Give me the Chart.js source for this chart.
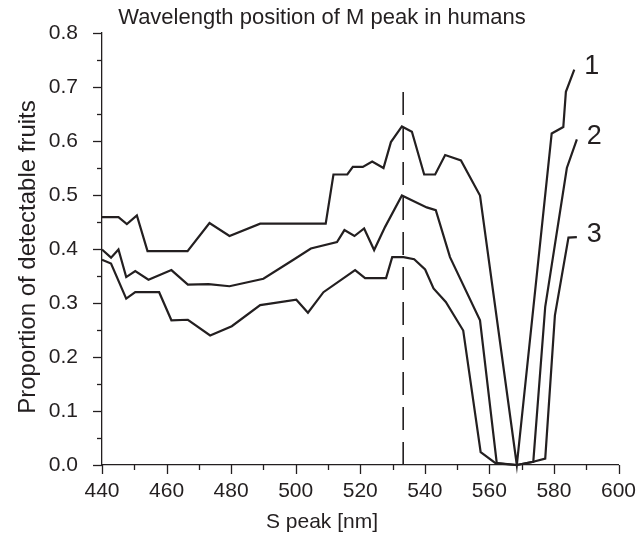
<!DOCTYPE html>
<html><head><meta charset="utf-8">
<script src="https://cdn.jsdelivr.net/npm/chart.js@4"></script>
<style>html,body{margin:0;padding:0;background:#fff}#wrap{width:638px;height:541px}</style>
</head><body><div id="wrap"><canvas id="c" width="638" height="541"></canvas></div>
<script>
const titleText = "Wavelength position of M peak in humans";
const xTitle = "S peak [nm]";
const yTitle = "Proportion of detectable fruits";
const seriesLabels = ["1", "2", "3"];
const markerX = 533.3;
const markerTop = 0.70;

const s1x = [440,445.1,447.7,450.8,454.1,466.5,473.3,479.5,489,509.3,511.7,516,517.7,520.8,523.7,527.2,529.5,532.9,536,539.8,543.2,546.3,551.2,557.1,568.5,579.3,582.9,583.7,586.3];
const s1y = [0.459,0.459,0.446,0.462,0.396,0.396,0.448,0.424,0.447,0.447,0.538,0.538,0.552,0.552,0.562,0.55,0.598,0.627,0.617,0.538,0.538,0.574,0.564,0.499,0.0,0.614,0.626,0.691,0.732];

const s2x = [440,442.8,445.1,447.5,450.3,454.4,461.5,466.6,473,479.5,490,499.3,504.7,512.8,515.1,518.2,521.2,524.3,527.7,532.9,540.6,543.4,547.8,557.1,562.3,568.5,573.6,577.3,584.0,587.1];
const s2y = [0.399,0.384,0.399,0.348,0.359,0.343,0.361,0.334,0.335,0.331,0.345,0.38,0.401,0.413,0.435,0.424,0.438,0.398,0.441,0.499,0.477,0.472,0.385,0.268,0.003,0.0,0.006,0.293,0.55,0.603];

const s3x = [440,442.8,447.5,450.3,457.7,461.5,466.6,473.5,480.2,489,492.1,500.2,503.8,508.6,518.4,521.5,528,529.9,533.4,536.7,540.1,542.7,546.5,551.9,557.3,561.8,568.5,573.6,577.3,580.3,584.5,587.1];
const s3y = [0.38,0.373,0.308,0.32,0.32,0.268,0.269,0.240,0.257,0.296,0.299,0.306,0.282,0.32,0.361,0.346,0.346,0.385,0.385,0.381,0.362,0.327,0.302,0.249,0.024,0.004,0.0,0.006,0.012,0.277,0.421,0.422];

const xMin = 440, xMax = 600, xMajor = 20, xMinor = 10;
const yMin = 0, yMax = 0.8, yMajor = 0.1, yMinor = 0.05;

const INK = '#231f20';
const FONT = '"Liberation Sans", Arial, Helvetica, sans-serif';

function pts(xs, ys){ return xs.map((x,i)=>({x:x, y:ys[i]})); }

const lineDs = (xs, ys) => ({
  data: pts(xs, ys), borderColor: INK, borderWidth: 2.2, pointRadius: 0,
  tension: 0, fill: false, clip: false, borderJoinStyle: 'miter'
});

const decor = {
  id: 'decor',
  afterDraw(chart){
    const ctx = chart.ctx, xs = chart.scales.x, ys = chart.scales.y;
    const ca = chart.chartArea;
    ctx.save();
    ctx.strokeStyle = INK; ctx.lineWidth = 1.3;
    for (let v = yMin; v <= yMax + 1e-9; v += yMinor) {
      const major = Math.abs(Math.round(v / yMajor) * yMajor - v) < 1e-6;
      const py = Math.round(ys.getPixelForValue(v)) + 0.5;
      ctx.beginPath(); ctx.moveTo(ca.left, py); ctx.lineTo(ca.left - (major ? 9 : 5), py); ctx.stroke();
    }
    for (let v = xMin; v <= xMax + 1e-9; v += xMinor) {
      const major = (v - xMin) % xMajor === 0;
      const px = Math.round(xs.getPixelForValue(v)) + 0.5;
      ctx.beginPath(); ctx.moveTo(px, ca.bottom); ctx.lineTo(px, ca.bottom + (major ? 9 : 5)); ctx.stroke();
    }
    ctx.fillStyle = INK;
    ctx.font = '27px ' + FONT;
    ctx.textAlign = 'left'; ctx.textBaseline = 'middle';
    const ends = [[s1x, s1y], [s2x, s2y], [s3x, s3y]];
    ends.forEach((e, i) => {
      const n = e[0].length - 1;
      ctx.fillText(seriesLabels[i], xs.getPixelForValue(e[0][n]) + 10, ys.getPixelForValue(e[1][n]) - 3);
    });
    ctx.textAlign = 'center'; ctx.textBaseline = 'middle';
    ctx.font = '22px ' + FONT;
    ctx.fillText(titleText, 322, 18);
    ctx.font = '21px ' + FONT;
    ctx.fillText(xTitle, 322, 522);
    ctx.translate(28, 257);
    ctx.rotate(-Math.PI / 2);
    ctx.font = '24px ' + FONT;
    ctx.fillText(yTitle, 0, 0);
    ctx.restore();
  }
};

new Chart(document.getElementById('c'), {
  type: 'line',
  data: {
    datasets: [
      lineDs(s1x, s1y), lineDs(s2x, s2y), lineDs(s3x, s3y),
      { data: [{x: markerX, y: yMin}, {x: markerX, y: markerTop}], borderColor: INK, borderWidth: 1.6,
        borderDash: [23, 12], pointRadius: 0, fill: false, clip: false }
    ]
  },
  options: {
    responsive: false, animation: false, devicePixelRatio: 1,
    layout: { padding: { top: 33, right: 19.5, left: 11, bottom: 0 } },
    plugins: { legend: { display: false }, tooltip: { enabled: false }, title: { display: false } },
    scales: {
      x: {
        type: 'linear', min: xMin, max: xMax,
        grid: { display: false },
        border: { display: true, color: INK, width: 1.3 },
        ticks: { stepSize: xMajor, color: INK, font: { family: FONT, size: 21 }, padding: 6, maxRotation: 0,
                 callback: v => String(v) },
        title: { display: false },
        afterFit: s => { s.height = 76; s.paddingLeft = 0; s.paddingRight = 0; }
      },
      y: {
        type: 'linear', min: yMin, max: yMax,
        grid: { display: false },
        border: { display: true, color: INK, width: 1.3 },
        ticks: { stepSize: yMajor, color: INK, font: { family: FONT, size: 21 }, padding: 16,
                 callback: v => v.toFixed(1) },
        title: { display: false },
        afterFit: s => { s.width = 91; }
      }
    }
  },
  plugins: [decor]
});
</script></body></html>
